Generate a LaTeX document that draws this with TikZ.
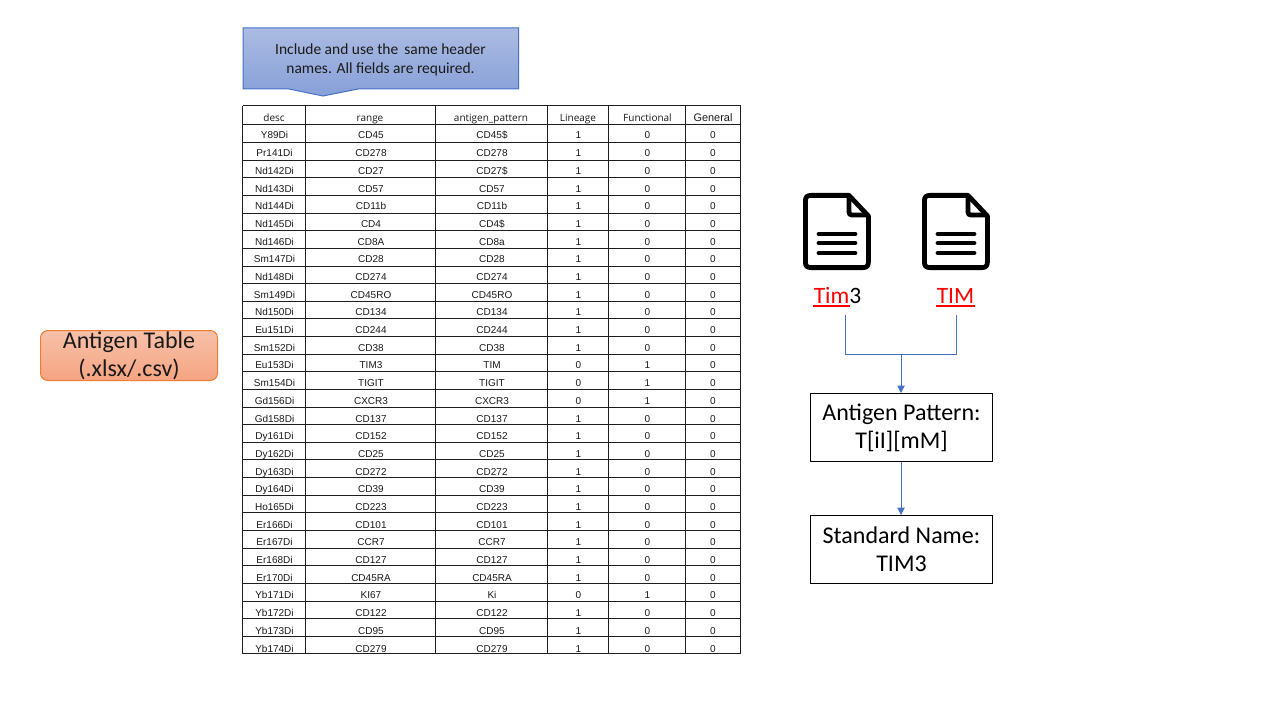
\documentclass[tikz,border=0pt]{standalone}
\usepackage{fontspec}
\setmainfont{Carlito}
\newfontfamily\cellfont{Liberation Sans}
\newfontfamily\headfont{Open Sans}
\usetikzlibrary{arrows.meta}
\definecolor{blueline}{HTML}{4472C4}
\definecolor{calltop}{HTML}{ABBBE2}
\definecolor{callbot}{HTML}{87A0D8}
\definecolor{orangeline}{HTML}{ED7D31}
\definecolor{orangetop}{HTML}{F8C1A9}
\definecolor{orangebot}{HTML}{F5A482}
\definecolor{gridline}{HTML}{1E1E1E}
\definecolor{txt}{HTML}{1A1A1A}
\tikzset{
  x=0.75pt,y=-0.75pt,
  cell/.style={inner sep=0pt,anchor=base,font=\cellfont\fontsize{7.5pt}{9pt}\selectfont,text=txt},
  headcell/.style={inner sep=0pt,anchor=base,font=\headfont\fontsize{7.5pt}{9pt}\selectfont,text=txt},
  grid/.style={draw=gridline,line width=0.75pt},
  calltext/.style={inner sep=0pt,align=center,font=\fontsize{11.6pt}{14.2pt}\selectfont,text=txt},
  stdbox/.style={draw=black,line width=0.75pt,fill=white,minimum width=136.5pt,minimum height=51pt,inner sep=0pt,align=center,font=\fontsize{18pt}{21pt}\selectfont,text=black},
  labeltext/.style={inner sep=0pt,anchor=base,font=\fontsize{17.6pt}{20pt}\selectfont},
  link/.style={draw=blueline,line width=0.75pt},
  arrowlink/.style={link,-{Triangle[length=5.5pt,width=5.5pt]}},
  docicon/.pic={
    \draw[line width=3.6pt,line join=round,fill=white] (8,2.4) -- (46,2.4) -- (65.4,23) -- (65.4,69)
      .. controls (65.4,73) and (63.5,74.6) .. (60,74.6) -- (8,74.6) .. controls (4,74.6) and (2.4,73) .. (2.4,69) -- (2.4,8) .. controls (2.4,4) and (4,2.4) .. (8,2.4) -- cycle;
    \draw[line width=3.6pt,line join=round] (46,2.4) -- (46,19) .. controls (46,21) and (47,22) .. (49,22) -- (65.4,22);
    \foreach \yy in {41,50,60}{\draw[line width=3.6pt,line cap=round] (16,\yy) -- (52,\yy);}
  },
}
\newcommand{\redul}[1]{\textcolor{red}{#1}}
\begin{document}
\begin{tikzpicture}
\useasboundingbox (0,0) rectangle (1280,720);
\fill[white] (0,0) rectangle (1280,720);

% left label
\node[draw=orangeline,line width=0.75pt,rounded corners=5.5pt,top color=orangetop,bottom color=orangebot,
  minimum width=132.75pt,minimum height=37.5pt,inner sep=0pt,align=center,
  font=\fontsize{18pt}{21pt}\selectfont,text=txt] (source) at (129,355.5) {Antigen Table\\(.xlsx/.csv)};

% callout
\path[draw=blueline,line width=0.75pt,top color=calltop,bottom color=callbot]
  (243,28) -- (518.5,28) -- (518.5,89) -- (358,89) -- (323,96) -- (289,89) -- (243,89) -- cycle;
\node[calltext] (note) at (380.5,60) {Include and use the\, same header\\names. All fields are required.};

% table grid
\foreach \xx in {242.5,305.5,435.5,547.5,608.5,685.5,740.5}{\draw[grid] (\xx,106) -- (\xx,654);}
\draw[grid] (242.5,106) -- (740.5,106);
\foreach \i in {0,...,30}{\draw[grid] (242.5,{125+\i*17.63}) -- (740.5,{125+\i*17.63});}

% table header
\foreach \xx/\t/\n in {274/desc/a,370/range/b,491/antigen\_pattern/c,578/Lineage/d,647.5/Functional/e}{
  \node[headcell] (head-\n) at (\xx,122) {\t};
}
\node[cell,font=\cellfont\fontsize{8.2pt}{9pt}\selectfont] (head-f) at (713,122) {General};

% table rows
\foreach \da/\db/\dc/\dd/\de/\df [count=\i] in {
Y89Di/CD45/CD45\$/1/0/0,
Pr141Di/CD278/CD278/1/0/0,
Nd142Di/CD27/CD27\$/1/0/0,
Nd143Di/CD57/CD57/1/0/0,
Nd144Di/CD11b/CD11b/1/0/0,
Nd145Di/CD4/CD4\$/1/0/0,
Nd146Di/CD8A/CD8a/1/0/0,
Sm147Di/CD28/CD28/1/0/0,
Nd148Di/CD274/CD274/1/0/0,
Sm149Di/CD45RO/CD45RO/1/0/0,
Nd150Di/CD134/CD134/1/0/0,
Eu151Di/CD244/CD244/1/0/0,
Sm152Di/CD38/CD38/1/0/0,
Eu153Di/TIM3/TIM/0/1/0,
Sm154Di/TIGIT/TIGIT/0/1/0,
Gd156Di/CXCR3/CXCR3/0/1/0,
Gd158Di/CD137/CD137/1/0/0,
Dy161Di/CD152/CD152/1/0/0,
Dy162Di/CD25/CD25/1/0/0,
Dy163Di/CD272/CD272/1/0/0,
Dy164Di/CD39/CD39/1/0/0,
Ho165Di/CD223/CD223/1/0/0,
Er166Di/CD101/CD101/1/0/0,
Er167Di/CCR7/CCR7/1/0/0,
Er168Di/CD127/CD127/1/0/0,
Er170Di/CD45RA/CD45RA/1/0/0,
Yb171Di/KI67/Ki/0/1/0,
Yb172Di/CD122/CD122/1/0/0,
Yb173Di/CD95/CD95/1/0/0,
Yb174Di/CD279/CD279/1/0/0}{
  \pgfmathsetmacro{\yy}{139.0+(\i-1)*17.69}
  \node[cell] (r\i-a) at (274.5,\yy) {\da};
  \node[cell] (r\i-b) at (371,\yy) {\db};
  \node[cell] (r\i-c) at (492,\yy) {\dc};
  \node[cell] (r\i-d) at (578.5,\yy) {\dd};
  \node[cell] (r\i-e) at (647.5,\yy) {\de};
  \node[cell] (r\i-f) at (713,\yy) {\df};
}

% document icons
\pic at (803,193) {docicon};
\pic at (922,193) {docicon};

% labels under icons
\node[labeltext] (tim) at (837.5,303) {\redul{Tim}3};
\node[labeltext] (timb) at (955.5,303) {\redul{TIM}};
\fill[red] (813,304.6) rectangle (850,307);
\fill[red] (936,304.6) rectangle (975,307);

% boxes
\node[stdbox] (pattern) at (901.5,427.5) {\rule{0pt}{13.5pt}Antigen Pattern:\\T[iI][mM]};
\node[stdbox] (standard) at (901.5,549.5) {Standard Name:\\TIM3};

% connectors
\coordinate (fromtim) at (845.5,315);
\coordinate (fromTIM) at (956.5,315);
\coordinate (join) at (901,354.5);
\draw[link] (fromtim) |- (join) -| (fromTIM);
\draw[arrowlink] (join) -- (join |- pattern.north);
\draw[arrowlink] (pattern.south -| join) -- (join |- standard.north);
\end{tikzpicture}
\end{document}
